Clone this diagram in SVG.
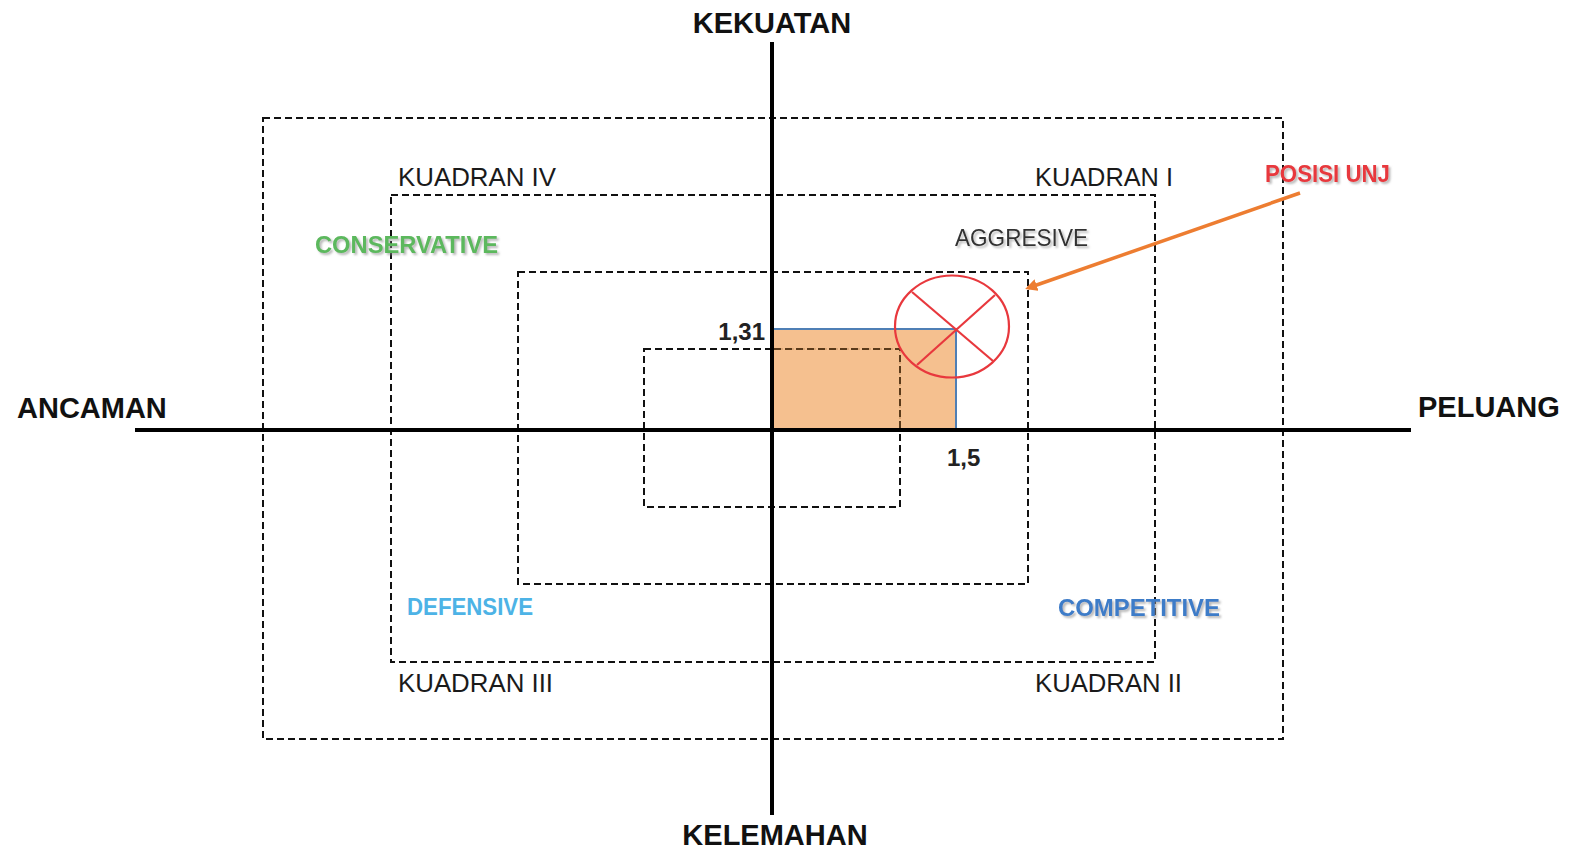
<svg xmlns="http://www.w3.org/2000/svg" width="1580" height="850" viewBox="0 0 1580 850">
  <style>
    .axis { stroke: #000; stroke-width: 4; fill: none; }
    .dash { stroke: #111; stroke-width: 2; stroke-dasharray: 7 4; fill: none; }
    .axl { font-family: "Liberation Sans", Arial, sans-serif; font-weight: bold; font-size: 29px; fill: #111; }
    .num { font-family: "Liberation Sans", Arial, sans-serif; font-weight: bold; font-size: 24px; fill: #222; }
    .kd { font-family: "Liberation Sans", Arial, sans-serif; font-size: 25px; fill: #1a1a1a; }
    .st { font-family: "Liberation Sans", Arial, sans-serif; font-size: 24px; font-weight: bold; filter: url(#sh); }
  </style>
  <defs>
    <filter id="sh" x="-10%" y="-30%" width="130%" height="170%">
      <feDropShadow dx="2" dy="2" stdDeviation="1.2" flood-color="#888" flood-opacity="0.6"/>
    </filter>
    <marker id="ah" markerWidth="12" markerHeight="12" refX="9" refY="6" orient="auto" markerUnits="userSpaceOnUse" viewBox="0 0 12 12">
      <path d="M0,0 L12,6 L0,12 z" fill="#ED7D31"/>
    </marker>
  </defs>
  <rect width="1580" height="850" fill="#fff"/>

  <g id="frames">
    <rect class="dash" x="263" y="118" width="1020" height="621"/>
    <rect class="dash" x="391" y="195" width="764" height="467"/>
    <rect class="dash" x="518" y="272" width="510" height="312"/>
    <rect class="dash" x="644" y="349" width="256" height="158"/>
  </g>

  <g id="position-area">
    <rect x="773" y="329" width="183" height="101" fill="#F4B983" fill-opacity="0.9" stroke="#4F7FB5" stroke-width="2"/>
  </g>

  <g id="frame-inner-over">
    <path class="dash" d="M774,349 L900,349 L900,430" style="stroke:#5a3a1a"/>
  </g>

  <g id="axes">
    <line class="axis" x1="772" y1="42" x2="772" y2="815"/>
    <line class="axis" x1="135" y1="430" x2="1411" y2="430"/>
  </g>

  <g id="marker-unj">
    <ellipse cx="952" cy="326.5" rx="57" ry="51" fill="none" stroke="#E8383D" stroke-width="2.2"/>
    <line x1="912" y1="292" x2="993" y2="361" stroke="#E8383D" stroke-width="2.2"/>
    <line x1="995" y1="295" x2="917" y2="365" stroke="#E8383D" stroke-width="2.2"/>
  </g>

  <g id="connectors">
    <line x1="1300" y1="193" x2="1028" y2="288" stroke="#ED7D31" stroke-width="3.5" marker-end="url(#ah)"/>
  </g>

  <g id="axis-labels">
    <text class="axl" x="772" y="33" text-anchor="middle">KEKUATAN</text>
    <text class="axl" x="775" y="845" text-anchor="middle">KELEMAHAN</text>
    <text class="axl" x="17" y="418">ANCAMAN</text>
    <text class="axl" x="1418" y="417">PELUANG</text>
  </g>

  <g id="values">
    <text class="num" x="765" y="340" text-anchor="end">1,31</text>
    <text class="num" x="947" y="466">1,5</text>
  </g>

  <g id="quadrant-labels">
    <text class="kd" x="398" y="186" textLength="158" lengthAdjust="spacingAndGlyphs">KUADRAN IV</text>
    <text class="kd" x="1035" y="186" textLength="138" lengthAdjust="spacingAndGlyphs">KUADRAN I</text>
    <text class="kd" x="398" y="692" textLength="155" lengthAdjust="spacingAndGlyphs">KUADRAN III</text>
    <text class="kd" x="1035" y="692" textLength="147" lengthAdjust="spacingAndGlyphs">KUADRAN II</text>
  </g>

  <g id="strategies">
    <text class="st" x="315" y="253" fill="#5BB85D" textLength="183" lengthAdjust="spacingAndGlyphs">CONSERVATIVE</text>
    <text class="st" x="955" y="246" fill="#333" style="font-weight:normal" textLength="133" lengthAdjust="spacingAndGlyphs">AGGRESIVE</text>
    <text class="st" x="407" y="615" fill="#4DB3E6" style="filter:none" textLength="126" lengthAdjust="spacingAndGlyphs">DEFENSIVE</text>
    <text class="st" x="1058" y="616" fill="#3E7CC8" textLength="162" lengthAdjust="spacingAndGlyphs">COMPETITIVE</text>
    <text class="st" x="1265" y="182" fill="#E8383D" textLength="125" lengthAdjust="spacingAndGlyphs">POSISI UNJ</text>
  </g>
</svg>
